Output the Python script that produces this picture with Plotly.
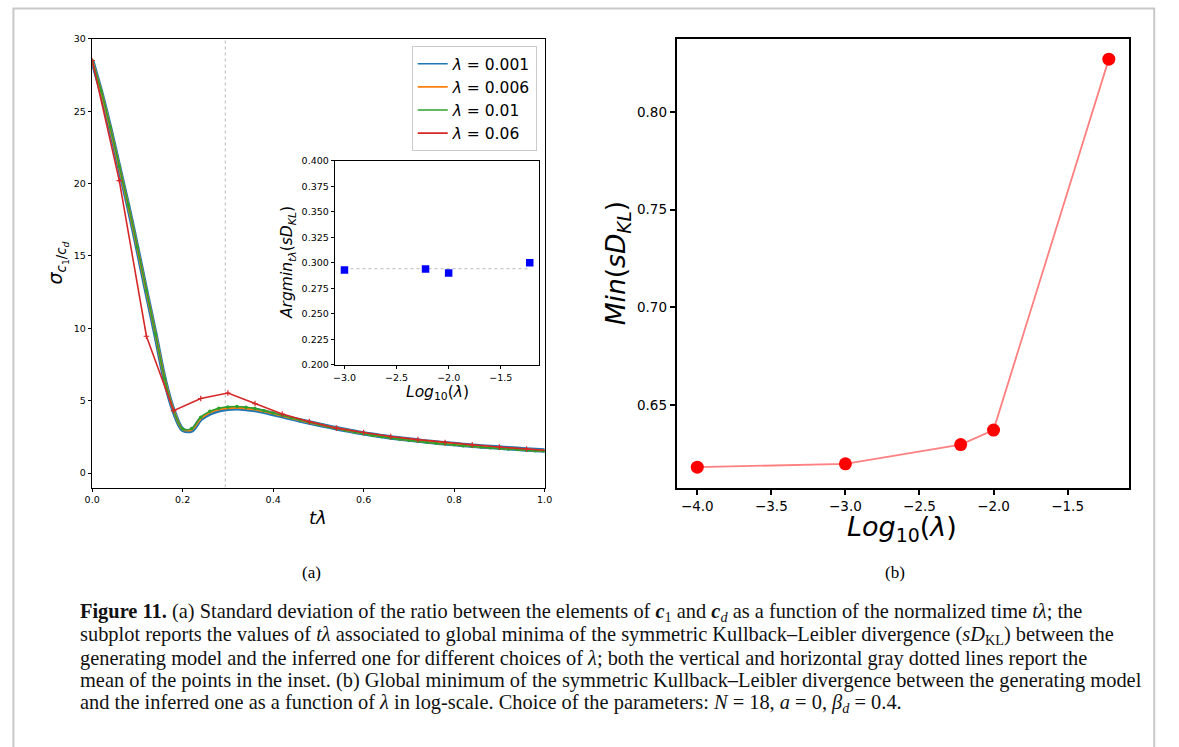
import numpy as np
import plotly.graph_objects as go

# ---------------- data ----------------
tl_grid = [0.00, 0.02, 0.04, 0.06, 0.08, 0.10, 0.12, 0.14, 0.16, 0.18,
           0.20, 0.22, 0.24, 0.26, 0.28, 0.30, 0.32, 0.34, 0.36, 0.38,
           0.40, 0.42, 0.44, 0.46, 0.48, 0.50, 0.52, 0.54, 0.56, 0.58,
           0.60, 0.62, 0.64, 0.66, 0.68, 0.70, 0.72, 0.74, 0.76, 0.78,
           0.80, 0.82, 0.84, 0.86, 0.88, 0.90, 0.92, 0.94, 0.96, 0.98, 1.00]

sigma_l0001 = [28.5, 26.3, 23.8, 21.1, 18.4, 15.5, 12.5, 9.55, 6.5, 4.3,
               3.0, 2.95, 3.72, 4.12, 4.34, 4.44, 4.47, 4.43, 4.35, 4.23,
               4.08, 3.93, 3.78, 3.63, 3.49, 3.35, 3.22, 3.09, 2.97, 2.85,
               2.74, 2.64, 2.55, 2.46, 2.38, 2.31, 2.24, 2.17, 2.11, 2.05,
               2.00, 1.94, 1.89, 1.84, 1.80, 1.76, 1.71, 1.67, 1.63, 1.59, 1.55]

sigma_l0006 = [28.5, 26.35, 23.85, 21.15, 18.45, 15.55, 12.55, 9.6, 6.55, 4.33,
               3.03, 3.0, 3.78, 4.18, 4.4, 4.49, 4.52, 4.48, 4.4, 4.27,
               4.12, 3.96, 3.8, 3.65, 3.5, 3.36, 3.22, 3.09, 2.97, 2.85,
               2.74, 2.63, 2.54, 2.45, 2.37, 2.29, 2.22, 2.15, 2.09, 2.03,
               1.98, 1.92, 1.87, 1.82, 1.78, 1.73, 1.69, 1.65, 1.61, 1.57, 1.53]

sigma_l001 = [28.5, 26.4, 23.9, 21.2, 18.5, 15.6, 12.6, 9.6, 6.55, 4.32,
              3.05, 3.07, 3.86, 4.26, 4.48, 4.57, 4.6, 4.55, 4.45, 4.31,
              4.15, 3.98, 3.82, 3.66, 3.5, 3.35, 3.21, 3.07, 2.95, 2.83,
              2.71, 2.6, 2.51, 2.42, 2.34, 2.26, 2.19, 2.12, 2.06, 2.0,
              1.95, 1.89, 1.84, 1.79, 1.74, 1.70, 1.66, 1.62, 1.58, 1.54, 1.50]

tl_red = [0.00, 0.06, 0.12, 0.18, 0.24, 0.30, 0.36, 0.42, 0.48, 0.54,
          0.60, 0.66, 0.72, 0.78, 0.84, 0.90, 0.96, 1.02]
sigma_l006 = [28.5, 20.2, 9.45, 4.3, 5.15, 5.53, 4.8, 4.08, 3.55, 3.1,
              2.8, 2.52, 2.31, 2.11, 1.95, 1.8, 1.66, 1.53]

legend_names = ["λ = 0.001", "λ = 0.006", "λ = 0.01", "λ = 0.06"]
line_colors = ["#1f77b4", "#ff7f0e", "#2ca02c", "#d62728"]

# inset: argmin of sD_KL for each lambda
inset_lambda = [0.001, 0.006, 0.01, 0.06]
inset_argmin = [0.293, 0.294, 0.290, 0.300]

# panel (b): minimum of sD_KL
b_lambda = [0.0001, 0.001, 0.006, 0.01, 0.06]
b_min_sdkl = [0.6181, 0.6198, 0.6297, 0.6371, 0.827]

left_yticks = [0, 5, 10, 15, 20, 25, 30]
left_xticks = [0.0, 0.2, 0.4, 0.6, 0.8, 1.0]
inset_yticks = [0.200, 0.225, 0.250, 0.275, 0.300, 0.325, 0.350, 0.375, 0.400]
inset_xticks = [-3.0, -2.5, -2.0, -1.5]
right_yticks = [0.65, 0.70, 0.75, 0.80]
right_xticks = [-4.0, -3.5, -3.0, -2.5, -2.0, -1.5]

caption_lines = [
    "<b>Figure 11.</b> (a) Standard deviation of the ratio between the elements of <b><i>c</i></b><sub>1</sub> and <b><i>c</i></b><sub><i>d</i></sub> as a function of the normalized time <i>tλ</i>; the",
    "subplot reports the values of <i>tλ</i> associated to global minima of the symmetric Kullback–Leibler divergence (<i>sD</i><sub>KL</sub>) between the",
    "generating model and the inferred one for different choices of <i>λ</i>; both the vertical and horizontal gray dotted lines report the",
    "mean of the points in the inset. (b) Global minimum of the symmetric Kullback–Leibler divergence between the generating model",
    "and the inferred one as a function of <i>λ</i> in log-scale. Choice of the parameters: <i>N</i> = 18, <i>a</i> = 0, <i>β</i><sub><i>d</i></sub> = 0.4.",
]

# ---------------- figure ----------------
W, H = 1179, 747
def px_x(p):
    return p / W
def px_y(p):
    return 1 - p / H

FONT = "DejaVu Sans"
fig = go.Figure()

inset_x = np.log10(inset_lambda)
mean_arg = float(np.mean(inset_argmin))

# vertical dotted line (mean of inset points)
fig.add_trace(go.Scatter(x=[mean_arg, mean_arg], y=[-1, 30], mode="lines",
                         line=dict(color="#c4c4c4", width=1.2, dash="dot"),
                         showlegend=False, xaxis="x", yaxis="y"))

main_series = [sigma_l0001, sigma_l0006, sigma_l001]
widths = [4.5, 2.4, 1.6]
for i, ys in enumerate(main_series):
    mode = "lines+markers" if i == 2 else "lines"
    fig.add_trace(go.Scatter(x=tl_grid, y=ys, mode=mode,
                             line=dict(color=line_colors[i], width=widths[i], shape="spline", smoothing=0.9),
                             marker=dict(size=3.5, color=line_colors[i]),
                             showlegend=False, xaxis="x", yaxis="y"))
fig.add_trace(go.Scatter(x=tl_red, y=sigma_l006, mode="lines+markers",
                         line=dict(color=line_colors[3], width=1.6),
                         marker=dict(symbol="cross-thin", size=4, color=line_colors[3],
                                     line=dict(width=1.2, color=line_colors[3])),
                         showlegend=False, xaxis="x", yaxis="y"))

# legend-only entries (thin lines like matplotlib legend)
for name, c in zip(legend_names, line_colors):
    fig.add_trace(go.Scatter(x=[None], y=[None], mode="lines", name="<i>λ</i>" + name[1:],
                             line=dict(color=c, width=1.6), xaxis="x", yaxis="y"))

# inset
fig.add_trace(go.Scatter(x=[inset_x.min(), inset_x.max()], y=[mean_arg, mean_arg], mode="lines",
                         line=dict(color="#c8c8c8", width=1.2, dash="dot"),
                         showlegend=False, xaxis="x2", yaxis="y2"))
fig.add_trace(go.Scatter(x=inset_x, y=inset_argmin, mode="markers",
                         marker=dict(symbol="square", size=7.5, color="#0000ff"),
                         showlegend=False, xaxis="x2", yaxis="y2"))

# panel (b)
fig.add_trace(go.Scatter(x=np.log10(b_lambda), y=b_min_sdkl, mode="lines+markers",
                         line=dict(color="#ff8080", width=1.8),
                         marker=dict(size=13, color="#ff0000"),
                         showlegend=False, xaxis="x3", yaxis="y3"))


def axis(domain, rng, tickvals, fmt, fsize, lw, tlen, anchor):
    return dict(domain=domain, range=rng, tickvals=tickvals, tickformat=fmt,
                showline=True, mirror=True, linecolor="black", linewidth=lw,
                ticks="outside", ticklen=tlen, tickwidth=lw, tickcolor="black",
                showgrid=False, zeroline=False, anchor=anchor,
                tickfont=dict(family=FONT, size=fsize, color="black"))

main_xd = [px_x(85.3), px_x(544)]
main_yd = [px_y(488.7), px_y(33.3)]
ins_xd = [px_x(331.7), px_x(538.3)]
ins_yd = [px_y(364), px_y(157.3)]
rt_xd = [px_x(677.9), px_x(1136.8)]

fig.update_layout(
    width=W, height=H, margin=dict(l=0, r=0, t=0, b=0),
    paper_bgcolor="white", plot_bgcolor="rgba(0,0,0,0)",
    xaxis=axis(main_xd, [0, 1], left_xticks, ".1f", 9.5, 1, 3.5, "y"),
    yaxis=axis(main_yd, [-1, 30], left_yticks, "d", 9.5, 1, 3.5, "x"),
    xaxis2=axis(ins_xd, [-3.089, -1.133], inset_xticks, ".1f", 9.5, 1, 3.5, "y2"),
    yaxis2=axis(ins_yd, [0.2, 0.4], inset_yticks, ".3f", 9.5, 1, 3.5, "x2"),
    xaxis3=axis(rt_xd, [-4.139, -1.083], right_xticks, ".1f", 13.5, 2, 5, "y3"),
    yaxis3=axis(main_yd, [0.6077, 0.8374], right_yticks, ".2f", 13.5, 2, 5, "x3"),
    showlegend=True,
    legend=dict(x=px_x(536), y=px_y(40.7), xanchor="right", yanchor="top",
                bgcolor="rgba(255,255,255,0.85)", bordercolor="#cccccc", borderwidth=1,
                font=dict(family=FONT, size=15.5, color="black"), itemwidth=30,
                tracegroupgap=0),
)

ann = []
def title(text, x, y, size, angle=0):
    ann.append(dict(text=text, x=px_x(x), y=px_y(y), xref="paper", yref="paper",
                    xanchor="center", yanchor="middle", showarrow=False, textangle=angle,
                    font=dict(family=FONT, size=size, color="black")))

title("<i>σ</i><sub><i>c</i><sub>1</sub>/<i>c</i><sub><i>d</i></sub></sub>", 50, 261, 19, -90)
title("<i>tλ</i>", 314.7, 519, 18)
title("<i>Argmin</i><sub><i>tλ</i></sub>(<i>sD</i><sub><i>KL</i></sub>)", 284, 260.7, 15.5, -90)
title("<i>Log</i><sub>10</sub>(<i>λ</i>)", 435, 392.5, 15.5)
title("<i>Min</i>(<i>sD</i><sub><i>KL</i></sub>)", 617.5, 261, 26.5, -90)
title("<i>Log</i><sub>10</sub>(<i>λ</i>)", 906, 530, 27)

for lab, x in [("(a)", 307.5), ("(b)", 899.5)]:
    ann.append(dict(text=lab, x=px_x(x), y=px_y(575), xref="paper", yref="paper",
                    xanchor="center", yanchor="middle", showarrow=False,
                    font=dict(family="Liberation Serif", size=17, color="black")))

cap_y = [616, 639, 662, 685, 708]
for line, y in zip(caption_lines, cap_y):
    ann.append(dict(text=line, x=px_x(71), y=px_y(y), xref="paper", yref="paper",
                    xanchor="left", yanchor="middle", showarrow=False,
                    font=dict(family="Liberation Serif", size=20.4, color="#111111")))

fig.update_layout(annotations=ann)

# light gray page frame
fig.add_shape(type="rect", xref="paper", yref="paper",
              x0=px_x(5.5), x1=px_x(1162), y0=px_y(760), y1=px_y(2.5),
              line=dict(color="#c8c8c8", width=2), fillcolor="rgba(0,0,0,0)", layer="below")

fig.write_html("out.html")
